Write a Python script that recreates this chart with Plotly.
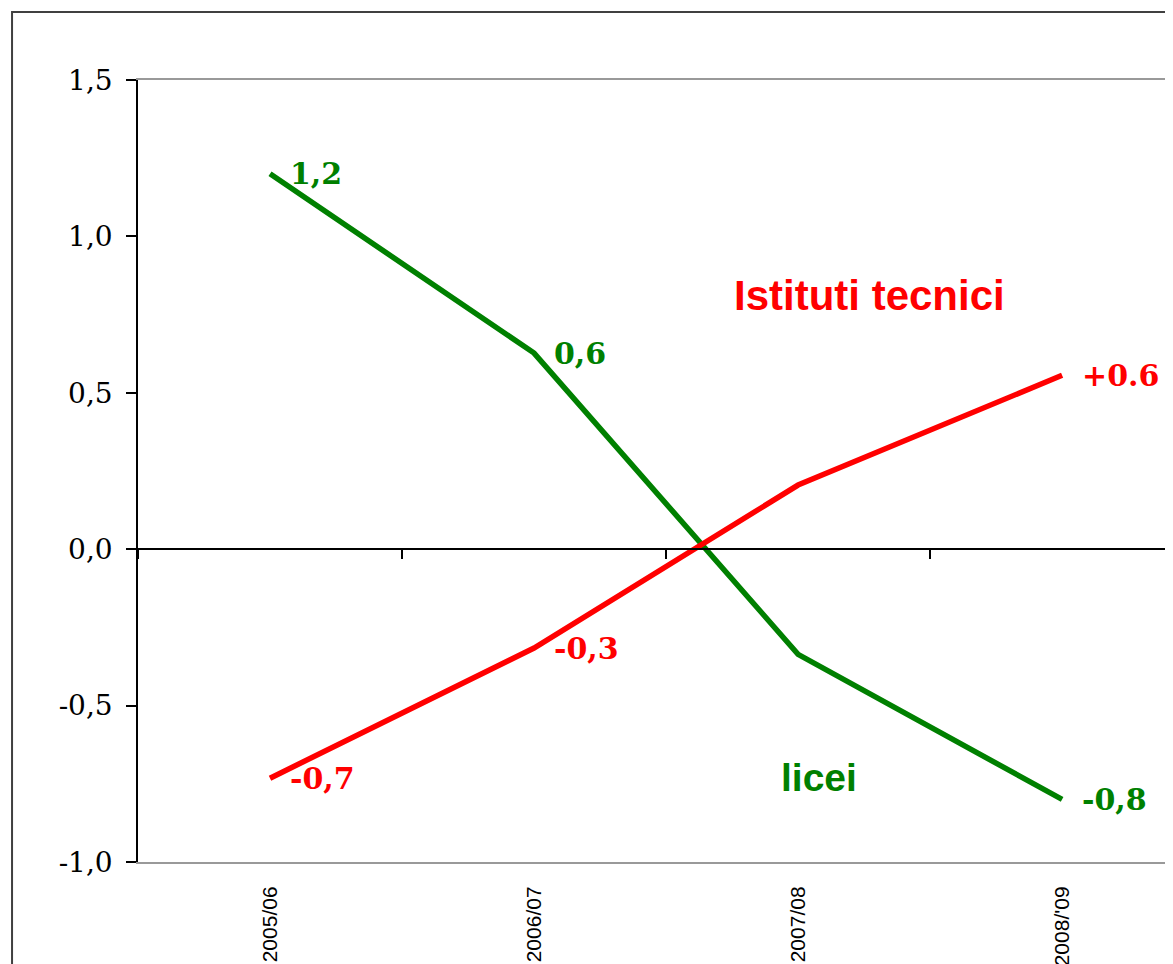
import plotly.graph_objects as go

categories = ["2005/06", "2006/07", "2007/08", "2008/'09"]
licei = [1.20, 0.627, -0.336, -0.80]
tecnici = [-0.732, -0.316, 0.205, 0.556]
licei_labels = ["1,2", "0,6", "", "-0,8"]
tecnici_labels = ["-0,7", "-0,3", "", "+0.6"]
y_tickvals = [-1.0, -0.5, 0.0, 0.5, 1.0, 1.5]
y_ticktext = ["-1,0", "-0,5", "0,0", "0,5", "1,0", "1,5"]
series_names = ["licei", "Istituti tecnici"]

GREEN = "#008000"
RED = "#FF0000"

fig = go.Figure()
fig.add_trace(go.Scatter(x=categories, y=licei, mode="lines", name=series_names[0],
                         line=dict(color=GREEN, width=5.5), showlegend=False, hoverinfo="skip"))
fig.add_trace(go.Scatter(x=categories, y=tecnici, mode="lines", name=series_names[1],
                         line=dict(color=RED, width=5.5), showlegend=False, hoverinfo="skip"))
# dummy trace to anchor the zero-line category axis
fig.add_trace(go.Scatter(x=categories, y=[None] * len(categories), xaxis="x2", mode="lines",
                         showlegend=False, hoverinfo="skip"))

annotations = []
label_font = dict(family="DejaVu Serif", size=30)
for cat, val, lab in zip(categories, licei, licei_labels):
    if lab:
        annotations.append(dict(x=cat, y=val, xref="x", yref="y", text=f"<b>{lab}</b>",
                                showarrow=False, xanchor="left", yanchor="middle", xshift=18,
                                font=dict(color=GREEN, **label_font)))
for cat, val, lab in zip(categories, tecnici, tecnici_labels):
    if lab:
        annotations.append(dict(x=cat, y=val, xref="x", yref="y", text=f"<b>{lab}</b>",
                                showarrow=False, xanchor="left", yanchor="middle", xshift=18,
                                font=dict(color=RED, **label_font)))
annotations.append(dict(x=2.27, y=0.81, xref="x", yref="y", text="<b>Istituti tecnici</b>",
                        showarrow=False, font=dict(family="Liberation Sans", size=42, color=RED)))
annotations.append(dict(x=2.08, y=-0.73, xref="x", yref="y", text="<b>licei</b>",
                        showarrow=False, font=dict(family="Liberation Sans", size=39, color=GREEN)))

# the page body has an 8px margin; compensate so the plot lands where the reference has it
fig.update_layout(
    width=1165, height=956,
    margin=dict(l=130, r=0, t=72, b=102, autoexpand=False),
    paper_bgcolor="white", plot_bgcolor="white",
    annotations=annotations,
    xaxis=dict(type="category", categoryorder="array", categoryarray=categories,
               range=[-0.5, 3.42], showgrid=False, zeroline=False, automargin=False,
               showline=True, linecolor="#999999", linewidth=2, mirror=True,
               ticks="", tickangle=-90, ticklabelstandoff=14,
               tickfont=dict(family="Liberation Sans", size=21, color="black")),
    xaxis2=dict(type="category", categoryorder="array", categoryarray=categories,
                range=[-0.5, 3.42], overlaying="x", anchor="free", position=0.4, side="bottom",
                showgrid=False, zeroline=False, showline=True, linecolor="black", linewidth=1.5,
                ticks="outside", tickson="boundaries", ticklen=9, tickcolor="black", tickwidth=1.5,
                showticklabels=False, automargin=False),
    yaxis=dict(range=[-1.0, 1.5], tickvals=y_tickvals, ticktext=y_ticktext,
               showgrid=False, zeroline=False, showline=True, linecolor="black", linewidth=1.5,
               ticks="outside", ticklen=10, tickcolor="black", tickwidth=1.5,
               ticklabelstandoff=8, automargin=False,
               tickfont=dict(family="DejaVu Serif", size=28, color="black")),
    shapes=[dict(type="rect", xref="paper", yref="paper", x0=-0.1217, x1=1.5, y0=-0.5, y1=1.087,
                 line=dict(color="#404040", width=2), fillcolor="rgba(0,0,0,0)", layer="above")],
)

fig.write_html("out.html")
